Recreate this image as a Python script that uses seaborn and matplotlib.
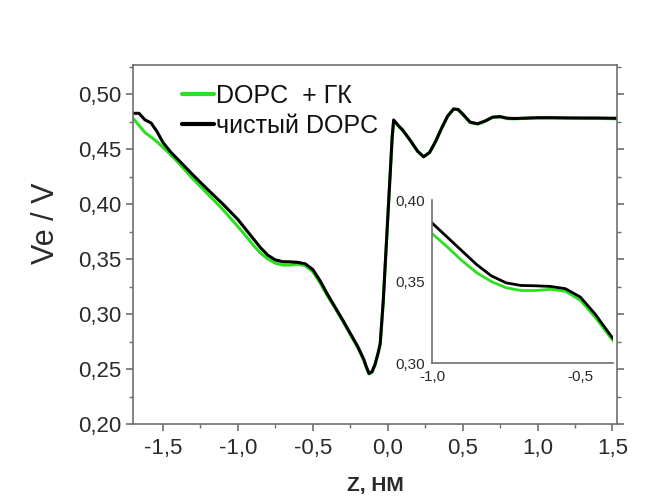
import numpy as np
import pandas as pd
import matplotlib
matplotlib.use("Agg")
import matplotlib.pyplot as plt
from matplotlib.ticker import FuncFormatter, MultipleLocator
from matplotlib.lines import Line2D
import seaborn as sns

# Electrostatic potential profile across the bilayer
z_nm = [-1.70, -1.66, -1.62, -1.58, -1.54, -1.50, -1.45, -1.40, -1.30, -1.20,
        -1.10, -1.00, -0.95, -0.90, -0.85, -0.80, -0.75, -0.70, -0.65, -0.60,
        -0.55, -0.50, -0.45, -0.40, -0.35, -0.30, -0.25, -0.20, -0.16, -0.145,
        -0.125, -0.105, -0.085, -0.065, -0.05, -0.03, -0.01, 0.01, 0.03, 0.04,
        0.07, 0.10, 0.15, 0.20, 0.24, 0.28, 0.32, 0.36, 0.40, 0.44,
        0.47, 0.50, 0.55, 0.60, 0.65, 0.70, 0.75, 0.80, 0.85, 0.90,
        1.00, 1.10, 1.20, 1.30, 1.40, 1.53]

v_pure = [0.4825, 0.4825, 0.4765, 0.4738, 0.4660, 0.4560, 0.4475, 0.4405, 0.4265, 0.4130,
          0.4000, 0.3860, 0.3775, 0.3690, 0.3605, 0.3535, 0.3492, 0.3476, 0.3474, 0.3470,
          0.3456, 0.3405, 0.3300, 0.3175, 0.3060, 0.2945, 0.2825, 0.2705, 0.2590, 0.2530,
          0.2460, 0.2475, 0.2540, 0.2640, 0.2730, 0.3110, 0.3610, 0.4110, 0.4610, 0.4764,
          0.4715, 0.4673, 0.4580, 0.4480, 0.4430, 0.4470, 0.4570, 0.4690, 0.4800, 0.4865,
          0.4860, 0.4820, 0.4745, 0.4730, 0.4755, 0.4790, 0.4795, 0.4780, 0.4778, 0.4780,
          0.4785, 0.4785, 0.4783, 0.4782, 0.4782, 0.4780]

v_gk = [0.4780, 0.4715, 0.4650, 0.4610, 0.4566, 0.4515, 0.4450, 0.4380, 0.4228, 0.4090,
        0.3950, 0.3795, 0.3715, 0.3630, 0.3555, 0.3500, 0.3462, 0.3445, 0.3445, 0.3453,
        0.3440, 0.3385, 0.3280, 0.3160, 0.3050, 0.2935, 0.2815, 0.2695, 0.2580, 0.2520,
        0.2455, 0.2470, 0.2535, 0.2635, 0.2725, 0.3105, 0.3605, 0.4105, 0.4605, 0.4760,
        0.4712, 0.4670, 0.4578, 0.4478, 0.4428, 0.4468, 0.4568, 0.4688, 0.4798, 0.4862,
        0.4858, 0.4815, 0.4740, 0.4726, 0.4752, 0.4788, 0.4792, 0.4776, 0.4775, 0.4778,
        0.4782, 0.4782, 0.4781, 0.4780, 0.4779, 0.4775]

label_gk = "DOPC  + ГК"
label_pure = "чистый DOPC"
colors = {label_gk: "#2be01f", label_pure: "#000000"}

df = pd.concat([
    pd.DataFrame({"z": z_nm, "v": v_gk, "sample": label_gk}),
    pd.DataFrame({"z": z_nm, "v": v_pure, "sample": label_pure}),
], ignore_index=True)

sns.set_theme(style="white")
plt.rcParams["font.family"] = ["Liberation Sans", "DejaVu Sans"]

fig = plt.figure(figsize=(6.57, 4.99), dpi=100)
ax = fig.add_axes([0.2024, 0.1503, 0.7366, 0.7194])

sns.lineplot(data=df, x="z", y="v", hue="sample", palette=colors,
             hue_order=[label_gk, label_pure], linewidth=2.2,
             sort=False, estimator=None, legend=False, ax=ax)

spine_col = "#6e6e6e"
text_col = "#2a2a2a"
ax.set_xlim(-1.70, 1.53)
ax.set_ylim(0.20, 0.5264)
ax.xaxis.set_major_locator(MultipleLocator(0.5))
ax.xaxis.set_minor_locator(MultipleLocator(0.25))
ax.yaxis.set_major_locator(MultipleLocator(0.05))
ax.yaxis.set_minor_locator(MultipleLocator(0.025))
ax.xaxis.set_major_formatter(FuncFormatter(lambda v, p: f"{v:.1f}".replace(".", ",").replace("-0,0", "0,0")))
ax.yaxis.set_major_formatter(FuncFormatter(lambda v, p: f"{v:.2f}".replace(".", ",")))
for s in ax.spines.values():
    s.set_color(spine_col)
    s.set_linewidth(1.2)
ax.tick_params(axis="both", which="major", direction="out", length=5, width=1.2,
               color=spine_col, labelsize=16, labelcolor=text_col, pad=3)
ax.tick_params(axis="x", which="major", pad=5)
ax.tick_params(axis="both", which="minor", direction="out", length=3, width=1.0,
               color=spine_col)
ax.tick_params(axis="y", which="both", right=True, left=True)
ax.tick_params(axis="x", which="both", bottom=True, top=False)

ax.set_xlabel("Z, НМ", fontsize=15, fontweight="bold", color=text_col, labelpad=12)
ax.set_ylabel("Ve / V", fontsize=22, color=text_col)
ax.yaxis.set_label_coords(-0.148, 0.56)

handles = [Line2D([], [], color=colors[label_gk], lw=3),
           Line2D([], [], color=colors[label_pure], lw=3)]
leg = ax.legend(handles, [label_gk, label_pure], loc="upper left",
                bbox_to_anchor=(0.092, 0.962), fontsize=18, frameon=True,
                handlelength=1.25, handletextpad=0.1, labelspacing=0.25,
                borderpad=0.2, borderaxespad=0.0)
leg.get_frame().set_facecolor("white")
leg.get_frame().set_edgecolor("none")
for t in leg.get_texts():
    t.set_color("#111111")

# Magnified view of the shoulder region
ins = fig.add_axes([0.6575, 0.2725, 0.2755, 0.3265])
sns.lineplot(data=df, x="z", y="v", hue="sample", palette=colors,
             hue_order=[label_gk, label_pure], linewidth=2.0,
             sort=False, estimator=None, legend=False, ax=ins)
ins.set_xlim(-1.0, -0.39)
ins.set_ylim(0.30, 0.40)
ins.patch.set_alpha(0.0)
ins.set_xlabel("")
ins.set_ylabel("")
ins.spines["top"].set_visible(False)
ins.spines["right"].set_visible(False)
for s in ("left", "bottom"):
    ins.spines[s].set_color(spine_col)
    ins.spines[s].set_linewidth(1.2)
ins.xaxis.set_major_locator(MultipleLocator(0.5))
ins.xaxis.set_minor_locator(MultipleLocator(0.25))
ins.yaxis.set_major_locator(MultipleLocator(0.05))
ins.yaxis.set_minor_locator(MultipleLocator(0.01))
ins.xaxis.set_major_formatter(FuncFormatter(lambda v, p: f"{v:.1f}".replace(".", ",")))
ins.yaxis.set_major_formatter(FuncFormatter(lambda v, p: f"{v:.2f}".replace(".", ",")))
ins.tick_params(axis="both", which="major", direction="out", length=4, width=1.0,
                color=spine_col, labelsize=11, labelcolor=text_col, pad=1)
ins.tick_params(axis="both", which="minor", direction="out", length=2.5, width=0.9,
                color=spine_col)

fig.savefig("out.png", dpi=100, facecolor="white")
